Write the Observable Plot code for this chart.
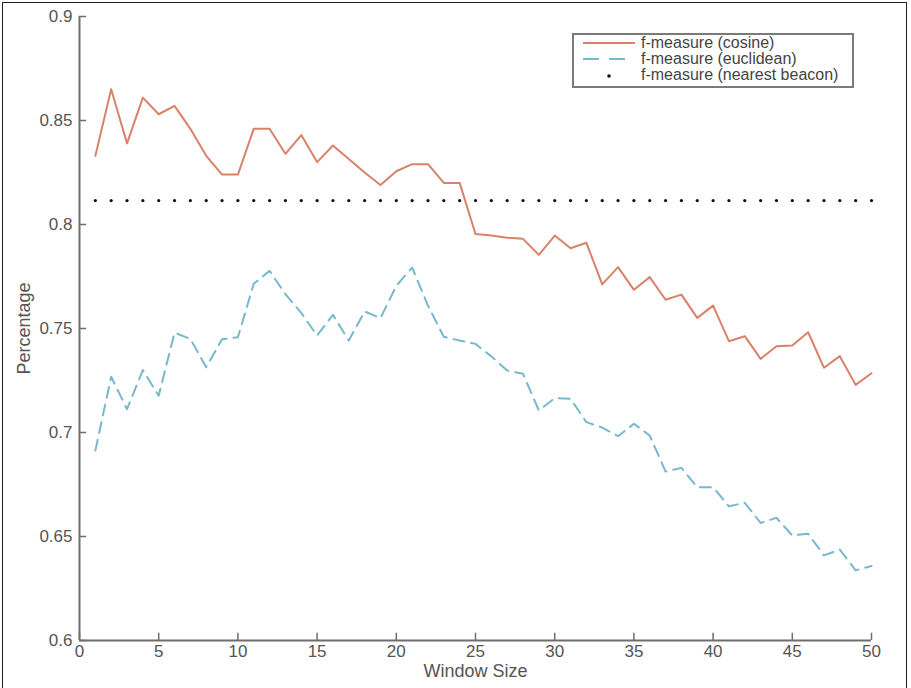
<!DOCTYPE html>
<html>
<head>
<meta charset="utf-8">
<script src="https://cdn.jsdelivr.net/npm/d3@7"></script>
<script src="https://cdn.jsdelivr.net/npm/@observablehq/plot@0.6"></script>
<style>
  html, body { margin: 0; padding: 0; background: #fff; }
  #wrap { position: relative; width: 911px; height: 688px; overflow: hidden; font-family: "Liberation Sans", Arial, sans-serif; }
  #frame { position: absolute; left: 2px; top: 2px; width: 905px; height: 700px; border: 1px solid #222; box-sizing: border-box; pointer-events: none; }
  #legend { position: absolute; left: 572px; top: 33px; width: 282px; height: 55px; border: 2px solid #7a7a7a; box-sizing: border-box; background: #fff; padding: 0; }
  .row { display: flex; align-items: center; height: 16px; font-size: 16px; line-height: 16px; color: #444; }
  .row svg { margin-left: 9px; margin-right: 6px; }
  #chart g[aria-label="x-axis tick label"], #chart g[aria-label="y-axis tick label"] { font-size: 17px; }
  #chart g[aria-label="x-axis label"], #chart g[aria-label="y-axis label"] { font-size: 18px; }
</style>
</head>
<body>
<div id="wrap">
  <div id="chart"></div>
  <div id="legend"></div>
  <div id="frame"></div>
</div>
<script>
const windowSize = [1,2,3,4,5,6,7,8,9,10,11,12,13,14,15,16,17,18,19,20,21,22,23,24,25,26,27,28,29,30,31,32,33,34,35,36,37,38,39,40,41,42,43,44,45,46,47,48,49,50];
const cosine = [0.833,0.865,0.839,0.861,0.853,0.857,0.846,0.833,0.824,0.824,0.846,0.846,0.834,0.843,0.830,0.838,0.8315,0.825,0.819,0.8256,0.829,0.829,0.820,0.820,0.7954,0.7947,0.7936,0.7931,0.7854,0.7947,0.7886,0.7912,0.7712,0.7795,0.7686,0.7747,0.7638,0.7663,0.7551,0.761,0.7439,0.7463,0.7354,0.7415,0.7418,0.7482,0.7311,0.7367,0.7229,0.7285];
const euclidean = [0.6913,0.7268,0.7112,0.7300,0.7177,0.7480,0.7450,0.7314,0.7448,0.7458,0.7715,0.7777,0.7665,0.7575,0.7466,0.7566,0.7442,0.7582,0.7550,0.7705,0.7793,0.7610,0.7460,0.7442,0.7426,0.7366,0.7298,0.7282,0.7106,0.7165,0.7162,0.7050,0.7024,0.6982,0.7042,0.6985,0.6812,0.6830,0.6737,0.6737,0.6645,0.6662,0.6565,0.6590,0.6505,0.6513,0.6409,0.6437,0.6337,0.6358];
const beacon = 0.8115;
const xTicks = [0,5,10,15,20,25,30,35,40,45,50];
const yTicks = [0.6,0.65,0.7,0.75,0.8,0.85,0.9];
const seriesNames = ["f-measure (cosine)", "f-measure (euclidean)", "f-measure (nearest beacon)"];
const colors = {cosine: "#d9826a", euclidean: "#76b9cc", beacon: "#111"};

const cosData = windowSize.map((w,i) => ({w, v: cosine[i]}));
const eucData = windowSize.map((w,i) => ({w, v: euclidean[i]}));
const beaconData = windowSize.map(w => ({w, v: beacon}));

const axisColor = "#6e6e6e";
const chart = Plot.plot({
  width: 911,
  height: 688,
  marginLeft: 79,
  marginRight: 40,
  marginTop: 16,
  marginBottom: 48,
  style: {fontFamily: "'Liberation Sans', Arial, sans-serif", color: "#555", background: "transparent"},
  x: {domain: [0, 50]},
  y: {domain: [0.6, 0.9]},
  marks: [
    Plot.axisX({ticks: xTicks, tickSize: 0, tickPadding: 4, tickFormat: d => String(d), label: "Window Size", labelAnchor: "center", labelOffset: 36, labelArrow: "none"}),
    Plot.axisY({ticks: yTicks, tickSize: 0, tickPadding: 7, tickFormat: d => String(+d.toFixed(2)), label: "Percentage", labelAnchor: "center", labelOffset: 62, labelArrow: "none"}),
    Plot.ruleX(xTicks, {x: d => d, y1: 0.6, y2: 0.6035, stroke: axisColor, strokeWidth: 1.5}),
    Plot.ruleY(yTicks, {y: d => d, x1: 0, x2: 0.45, stroke: axisColor, strokeWidth: 1.5}),
    Plot.ruleX([0], {y1: 0.6, y2: 0.9, stroke: axisColor, strokeWidth: 2}),
    Plot.ruleY([0.6], {x1: 0, x2: 50, stroke: axisColor, strokeWidth: 2}),
    Plot.dot(beaconData, {x: "w", y: "v", r: 1.6, fill: colors.beacon, stroke: "none"}),
    Plot.line(eucData, {x: "w", y: "v", stroke: colors.euclidean, strokeWidth: 2, strokeDasharray: "11,7"}),
    Plot.line(cosData, {x: "w", y: "v", stroke: colors.cosine, strokeWidth: 2})
  ]
});
document.getElementById("chart").appendChild(chart);

// legend
const legend = document.getElementById("legend");
const samples = [
  `<svg width="52" height="10"><line x1="0" y1="5" x2="52" y2="5" stroke="${colors.cosine}" stroke-width="2"/></svg>`,
  `<svg width="52" height="10"><line x1="0" y1="5" x2="52" y2="5" stroke="${colors.euclidean}" stroke-width="2" stroke-dasharray="16,10"/></svg>`,
  `<svg width="52" height="10"><circle cx="26" cy="6" r="1.8" fill="${colors.beacon}"/></svg>`
];
seriesNames.forEach((name, i) => {
  const row = document.createElement("div");
  row.className = "row";
  row.innerHTML = samples[i] + `<span>${name}</span>`;
  legend.appendChild(row);
});
</script>
</body>
</html>
